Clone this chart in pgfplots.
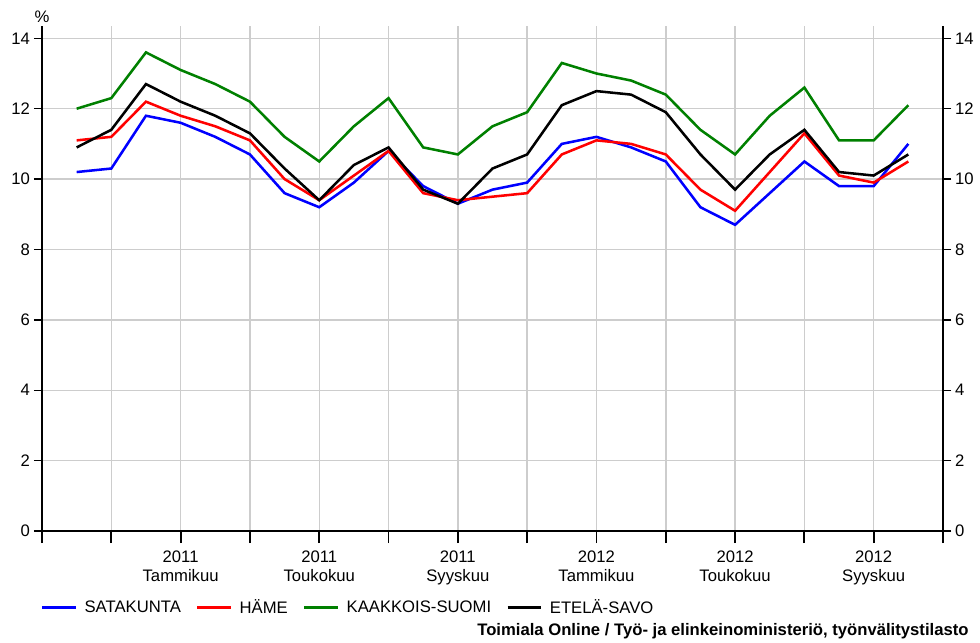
\documentclass[border=0pt,11pt]{standalone}
\usepackage{fontspec}
\setmainfont{Liberation Sans}
\usepackage{pgfplots}
\pgfplotsset{compat=1.18}
\definecolor{cblue}{RGB}{0,0,255}
\definecolor{cred}{RGB}{255,0,0}
\definecolor{cgreen}{RGB}{0,128,0}
\definecolor{cgrid}{RGB}{205,205,205}
\pgfplotstableread{
x sat hame kaak etela
0 10.2 11.1 12.0 10.9
1 10.3 11.2 12.3 11.4
2 11.8 12.2 13.6 12.7
3 11.6 11.8 13.1 12.2
4 11.2 11.5 12.7 11.8
5 10.7 11.1 12.2 11.3
6 9.6 10.0 11.2 10.3
7 9.2 9.4 10.5 9.4
8 9.9 10.1 11.5 10.4
9 10.8 10.8 12.3 10.9
10 9.8 9.6 10.9 9.7
11 9.3 9.4 10.7 9.3
12 9.7 9.5 11.5 10.3
13 9.9 9.6 11.9 10.7
14 11.0 10.7 13.3 12.1
15 11.2 11.1 13.0 12.5
16 10.9 11.0 12.8 12.4
17 10.5 10.7 12.4 11.9
18 9.2 9.7 11.4 10.7
19 8.7 9.1 10.7 9.7
20 9.6 10.2 11.8 10.7
21 10.5 11.3 12.6 11.4
22 9.8 10.1 11.1 10.2
23 9.8 9.9 11.1 10.1
24 11.0 10.5 12.1 10.7
}\datatable
\begin{document}
\begin{tikzpicture}[font=\fontsize{12.5}{14.4}\selectfont]
\path[use as bounding box] (-31.5pt,-83.25pt) rectangle (703.5pt,398.25pt);
\begin{axis}[
  at={(0pt,0pt)}, anchor=south west,
  scale only axis, width=675.75pt, height=378.75pt,
  xmin=-1, xmax=25, ymin=0, ymax=14.35,
  axis x line*=bottom, axis y line*=box,
  axis line style={black, line width=1.8pt},
  tick align=outside,
  xtick={-1,1,...,25},
  xticklabels={,,{2011\\Tammikuu},,{2011\\Toukokuu},,{2011\\Syyskuu},,{2012\\Tammikuu},,{2012\\Toukokuu},,{2012\\Syyskuu},,},
  xticklabel style={align=center, yshift=-7pt},
  ytick={0,2,...,14},
  yticklabel style={xshift=-1pt},
  xtick style={black, line width=1.4pt, /pgfplots/major tick length=9pt},
  ytick style={black, line width=1pt, /pgfplots/major tick length=6pt},
  xmajorgrids, ymajorgrids,
  major grid style={cgrid, line width=1.1pt},
  /pgf/number format/assume math mode=true,
  clip=false,
  legend columns=-1,
  legend style={draw=none, fill=none, at={(-0.002,-0.152)}, anchor=west,
    /tikz/every even column/.append style={column sep=5.5pt},
    nodes={inner xsep=5.5pt},
    inner sep=0pt},
  legend image code/.code={\draw[#1, line width=2.6pt] (0pt,0pt) -- (25pt,0pt);},
]
\addplot[cblue, line width=1.9pt] table[x=x, y=sat] {\datatable};
\addlegendentry{SATAKUNTA}
\addplot[cred, line width=1.9pt] table[x=x, y=hame] {\datatable};
\addlegendentry{HÄME}
\addplot[cgreen, line width=1.9pt] table[x=x, y=kaak] {\datatable};
\addlegendentry{KAAKKOIS-SUOMI}
\addplot[black, line width=1.9pt] table[x=x, y=etela] {\datatable};
\addlegendentry{ETELÄ-SAVO}
\node at (axis description cs:0,1.018) {\%};
\node[anchor=east, font=\fontsize{12.5}{14.4}\selectfont\bfseries] at (axis description cs:1.034,-0.198) {Toimiala Online / Työ- ja elinkeinoministeriö, työnvälitystilasto};
\end{axis}
\begin{axis}[
  at={(0pt,0pt)}, anchor=south west,
  scale only axis, width=675.75pt, height=378.75pt,
  xmin=-1, xmax=25, ymin=0, ymax=14.35,
  hide x axis, axis y line*=right,
  axis line style={black, line width=1.8pt},
  tick align=outside,
  ytick={0,2,...,14},
  yticklabel style={xshift=1pt},
  ytick style={black, line width=1pt, /pgfplots/major tick length=6pt},
  /pgf/number format/assume math mode=true,
]
\end{axis}
\end{tikzpicture}
\end{document}
